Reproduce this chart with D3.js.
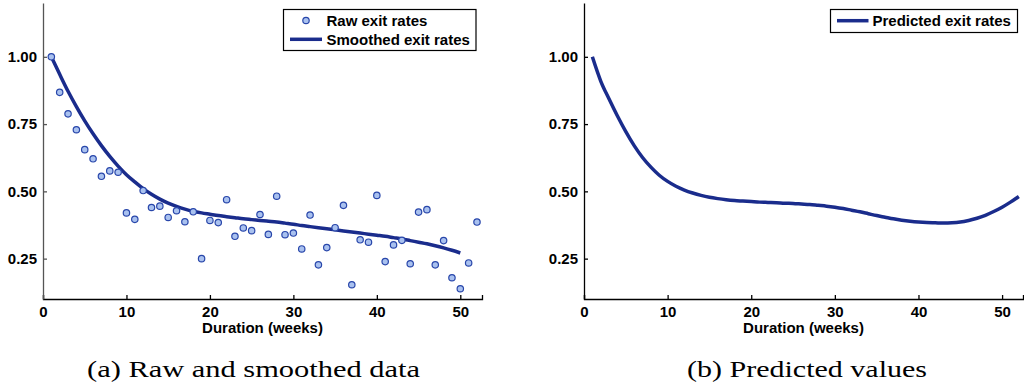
<!DOCTYPE html>
<html>
<head>
<meta charset="utf-8">
<script src="https://cdn.jsdelivr.net/npm/d3@7"></script>
<style>
    body { margin: 0; background: #fff; }
    svg { display: block; }
</style>
</head>
<body>
<svg id="chart" width="1024" height="389"></svg>
<script>
/* global d3 */

// raw exit rates, weeks 1..52
var weeks = d3.range(1, 53);
var rawRates = [1.000, 0.868, 0.788, 0.729, 0.655, 0.621, 0.556, 0.576, 0.571, 0.420,
    0.396, 0.503, 0.440, 0.445, 0.403, 0.428, 0.387, 0.424, 0.250, 0.392,
    0.384, 0.469, 0.333, 0.364, 0.354, 0.414, 0.340, 0.482, 0.339, 0.345,
    0.286, 0.412, 0.227, 0.291, 0.365, 0.448, 0.153, 0.320, 0.311, 0.485,
    0.239, 0.301, 0.318, 0.231, 0.423, 0.432, 0.227, 0.317, 0.179, 0.138,
    0.234, 0.386];

// smoothed exit rates, weeks 1..50
var smoothWeeks = d3.range(1, 51);
var smoothRates = [1.000, 0.935, 0.872, 0.815, 0.762, 0.714, 0.670, 0.630, 0.594, 0.562,
    0.535, 0.510, 0.489, 0.471, 0.456, 0.444, 0.434, 0.426, 0.420, 0.415,
    0.410, 0.406, 0.402, 0.398, 0.395, 0.392, 0.389, 0.386, 0.382, 0.378,
    0.373, 0.369, 0.365, 0.361, 0.357, 0.353, 0.349, 0.345, 0.341, 0.337,
    0.333, 0.328, 0.323, 0.317, 0.311, 0.305, 0.298, 0.290, 0.281, 0.271];

// predicted exit rates, weeks 1..52
var predRates = [1.000, 0.910, 0.843, 0.780, 0.722, 0.670, 0.626, 0.590, 0.560, 0.537,
    0.519, 0.505, 0.494, 0.485, 0.478, 0.473, 0.469, 0.466, 0.464, 0.462,
    0.460, 0.459, 0.458, 0.456, 0.455, 0.453, 0.451, 0.448, 0.445, 0.441,
    0.436, 0.430, 0.424, 0.417, 0.410, 0.404, 0.398, 0.393, 0.389, 0.386,
    0.384, 0.383, 0.382, 0.383, 0.386, 0.392, 0.400, 0.411, 0.425, 0.441,
    0.460, 0.481];

var xTicks = [0, 10, 20, 30, 40, 50];
var yTicks = [0.25, 0.50, 0.75, 1.00];

var sans = '"Liberation Sans", Arial, Helvetica, sans-serif';
var lineColor = '#1a2c8c';
var svg = d3.select('#chart');

function boldText(sel) {
    sel.style('font-family', sans).style('font-weight', 'bold')
        .style('font-size', '15px').attr('fill', '#000');
}

function panel(x0, x1, xMax, axisColor) {
    var x = d3.scaleLinear().domain([0, xMax]).range([x0, x1]);
    var y = d3.scaleLinear().domain([0.1, 1.2]).range([299, 3]);
    var g = svg.append('g');

    var xa = g.append('g').attr('transform', 'translate(0,299)')
        .call(d3.axisBottom(x).tickValues(xTicks).tickFormat(d3.format('d'))
            .tickSizeInner(-4).tickSizeOuter(-4).tickPadding(7));
    xa.selectAll('line, path').attr('stroke', '#000').attr('stroke-width', 1.3);
    xa.selectAll('.tick text').call(boldText);

    var ya = g.append('g').attr('transform', 'translate(' + x0 + ',0)')
        .call(d3.axisLeft(y).tickValues(yTicks).tickFormat(d3.format('.2f'))
            .tickSizeInner(-4).tickSizeOuter(0).tickPadding(6));
    ya.selectAll('line, path').attr('stroke', axisColor).attr('stroke-width', 1.3);
    ya.selectAll('.tick text').call(boldText);

    g.append('text')
        .attr('x', (x0 + x1) / 2).attr('y', 333)
        .attr('text-anchor', 'middle')
        .call(boldText)
        .text('Duration (weeks)');
    return { g: g, x: x, y: y };
}

// (a) raw and smoothed
var a = panel(43, 482, 52.6, '#555');
var lineA = d3.line().x(function (d) { return a.x(d[0]); }).y(function (d) { return a.y(d[1]); })
    .curve(d3.curveMonotoneX);
a.g.append('path')
    .datum(d3.zip(smoothWeeks, smoothRates))
    .attr('d', lineA)
    .attr('fill', 'none').attr('stroke', lineColor).attr('stroke-width', 3.5);
a.g.selectAll('circle.raw')
    .data(d3.zip(weeks, rawRates))
    .enter().append('circle').attr('class', 'raw')
    .attr('cx', function (d) { return a.x(d[0]); })
    .attr('cy', function (d) { return a.y(d[1]); })
    .attr('r', 3.2)
    .attr('fill', '#a9c1ef').attr('stroke', '#2846aa').attr('stroke-width', 1.2);

// legend a
var la = svg.append('g');
la.append('rect').attr('x', 283.5).attr('y', 9.5).attr('width', 192.5).attr('height', 41)
    .attr('fill', '#fff').attr('stroke', '#000').attr('stroke-width', 1.2);
la.append('circle').attr('cx', 306).attr('cy', 20.5).attr('r', 3.2)
    .attr('fill', '#a9c1ef').attr('stroke', '#2846aa').attr('stroke-width', 1.2);
la.append('line').attr('x1', 290).attr('x2', 322).attr('y1', 39.3).attr('y2', 39.3)
    .attr('stroke', lineColor).attr('stroke-width', 3.5);
la.append('text').attr('x', 326.5).attr('y', 26).call(boldText).text('Raw exit rates');
la.append('text').attr('x', 326.5).attr('y', 44.5).call(boldText).text('Smoothed exit rates');

// (b) predicted
var b = panel(584, 1023, 52.5, '#000');
var lineB = d3.line().x(function (d) { return b.x(d[0]); }).y(function (d) { return b.y(d[1]); })
    .curve(d3.curveMonotoneX);
b.g.append('path')
    .datum(d3.zip(weeks, predRates))
    .attr('d', lineB)
    .attr('fill', 'none').attr('stroke', lineColor).attr('stroke-width', 3.5);

var lb = svg.append('g');
lb.append('rect').attr('x', 830.5).attr('y', 9.5).attr('width', 187).attr('height', 23)
    .attr('fill', '#fff').attr('stroke', '#000').attr('stroke-width', 1.2);
lb.append('line').attr('x1', 837).attr('x2', 868.5).attr('y1', 20.7).attr('y2', 20.7)
    .attr('stroke', lineColor).attr('stroke-width', 3.5);
lb.append('text').attr('x', 872.5).attr('y', 26).call(boldText).text('Predicted exit rates');

// captions
function caption(cx, s, w) {
    svg.append('text').attr('x', cx - w / 2).attr('y', 377)
        .attr('textLength', w).attr('lengthAdjust', 'spacingAndGlyphs')
        .style('font-family', '"Liberation Serif", "Times New Roman", serif')
        .style('font-size', '24px')
        .text(s);
}
caption(253.5, '(a) Raw and smoothed data', 333);
caption(807, '(b) Predicted values', 240);
</script>
</body>
</html>
